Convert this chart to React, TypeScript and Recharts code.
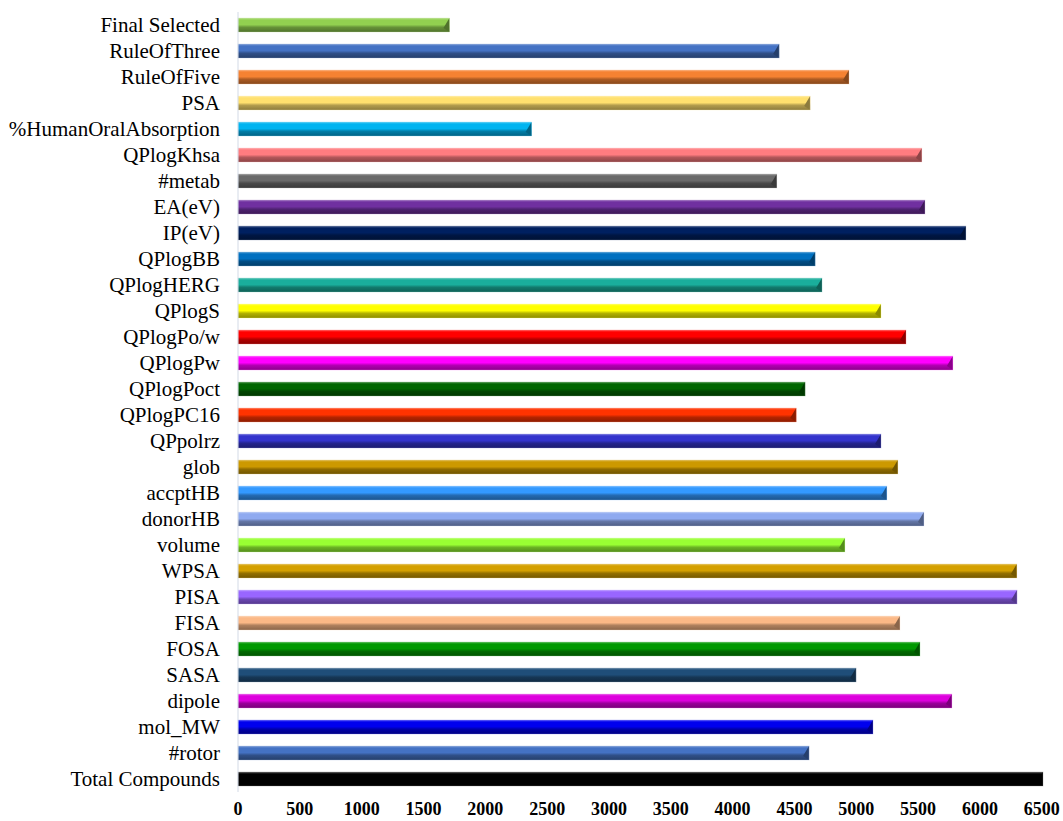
import React from "react";
import { BarChart, Bar, XAxis, YAxis, Cell } from "recharts";

// descriptor filters, top row first
const categories = [
  "Final Selected",
  "RuleOfThree",
  "RuleOfFive",
  "PSA",
  "%HumanOralAbsorption",
  "QPlogKhsa",
  "#metab",
  "EA(eV)",
  "IP(eV)",
  "QPlogBB",
  "QPlogHERG",
  "QPlogS",
  "QPlogPo/w",
  "QPlogPw",
  "QPlogPoct",
  "QPlogPC16",
  "QPpolrz",
  "glob",
  "accptHB",
  "donorHB",
  "volume",
  "WPSA",
  "PISA",
  "FISA",
  "FOSA",
  "SASA",
  "dipole",
  "mol_MW",
  "#rotor",
  "Total Compounds",
];

const compoundCounts = [
  1710, 4376, 4941, 4627, 2374, 5530, 4357, 5555, 5886, 4667, 4723, 5200,
  5402, 5781, 4586, 4514, 5200, 5336, 5247, 5547, 4908, 6298, 6300, 5353,
  5515, 4998, 5773, 5135, 4618, 6510,
];

const barColors = [
  "#92d050", "#4472c4", "#f58232", "#ffe06e", "#00b4f0", "#ff7c80",
  "#6a6a6a", "#7030a0", "#002060", "#0070c0", "#1aae9c", "#ffff00",
  "#ff0000", "#ff00ff", "#006600", "#ff3300", "#3333cc", "#cc9900",
  "#3399ff", "#8faaf0", "#99ff33", "#d4a000", "#9966ff", "#fbb886",
  "#009900", "#1f4e79", "#dd00dd", "#0000ee", "#4472c4", "#000000",
];

const xTicks = [0, 500, 1000, 1500, 2000, 2500, 3000, 3500, 4000, 4500, 5000, 5500, 6000, 6500];

const data = categories.map((name, i) => ({
  name,
  value: compoundCounts[i],
  color: barColors[i],
}));

const serif = "'Liberation Serif', 'Times New Roman', serif";

function mix(hex: string, target: number, amount: number) {
  const n = parseInt(hex.slice(1), 16);
  const ch = [(n >> 16) & 255, (n >> 8) & 255, n & 255].map((c) =>
    Math.round(c + (target - c) * amount)
  );
  return `rgb(${ch[0]},${ch[1]},${ch[2]})`;
}

// bevelled bar: light top edge, darker lower half and a shaded end cap
function BevelBar(props: any) {
  const { x, y, width, height, index, payload } = props;
  if (!width || width <= 0) return null;
  const base: string = payload?.color ?? "#888888";
  const id = `bar-grad-${index}`;
  const cap = Math.min(6, width);
  return (
    <g>
      <defs>
        <linearGradient id={id} x1="0" y1="0" x2="0" y2="1">
          <stop offset="0%" stopColor={mix(base, 255, 0.35)} />
          <stop offset="14%" stopColor={base} />
          <stop offset="48%" stopColor={base} />
          <stop offset="66%" stopColor={mix(base, 0, 0.3)} />
          <stop offset="100%" stopColor={mix(base, 0, 0.45)} />
        </linearGradient>
      </defs>
      <rect x={x} y={y} width={width} height={height} fill={`url(#${id})`} />
      <polygon
        points={`${x + width},${y} ${x + width},${y + height} ${x + width - cap},${y + height * 0.72}`}
        fill={mix(base, 0, 0.45)}
      />
      <rect
        x={x}
        y={y}
        width={width}
        height={height}
        fill="none"
        stroke={mix(base, 255, 0.5)}
        strokeOpacity={0.5}
        strokeWidth={0.6}
      />
    </g>
  );
}

export default function App() {
  return (
    <div style={{ position: "absolute", left: 0, top: 0, width: 1063, height: 821, background: "#fff" }}>
      <BarChart
        width={1063}
        height={821}
        data={data}
        layout="vertical"
        margin={{ top: 12, right: 20, bottom: 0, left: 0 }}
        barCategoryGap={12}
      >
        <XAxis
          type="number"
          domain={[0, 6500]}
          ticks={xTicks}
          interval={0}
          axisLine={false}
          tickLine={false}
          tickSize={0}
          tickMargin={10}
          height={29}
          tick={{ fontFamily: serif, fontSize: 18, fontWeight: "bold", fill: "#000" }}
        />
        <YAxis
          type="category"
          dataKey="name"
          width={238}
          interval={0}
          tickLine={false}
          tickSize={0}
          tickMargin={18}
          axisLine={{ stroke: "#d3dae6", strokeWidth: 1 }}
          tick={{ fontFamily: serif, fontSize: 21, fill: "#000" }}
        />
        <Bar dataKey="value" barSize={14} isAnimationActive={false} shape={BevelBar}>
          {data.map((d, i) => (
            <Cell key={`cell-${i}`} fill={d.color} />
          ))}
        </Bar>
      </BarChart>
    </div>
  );
}
